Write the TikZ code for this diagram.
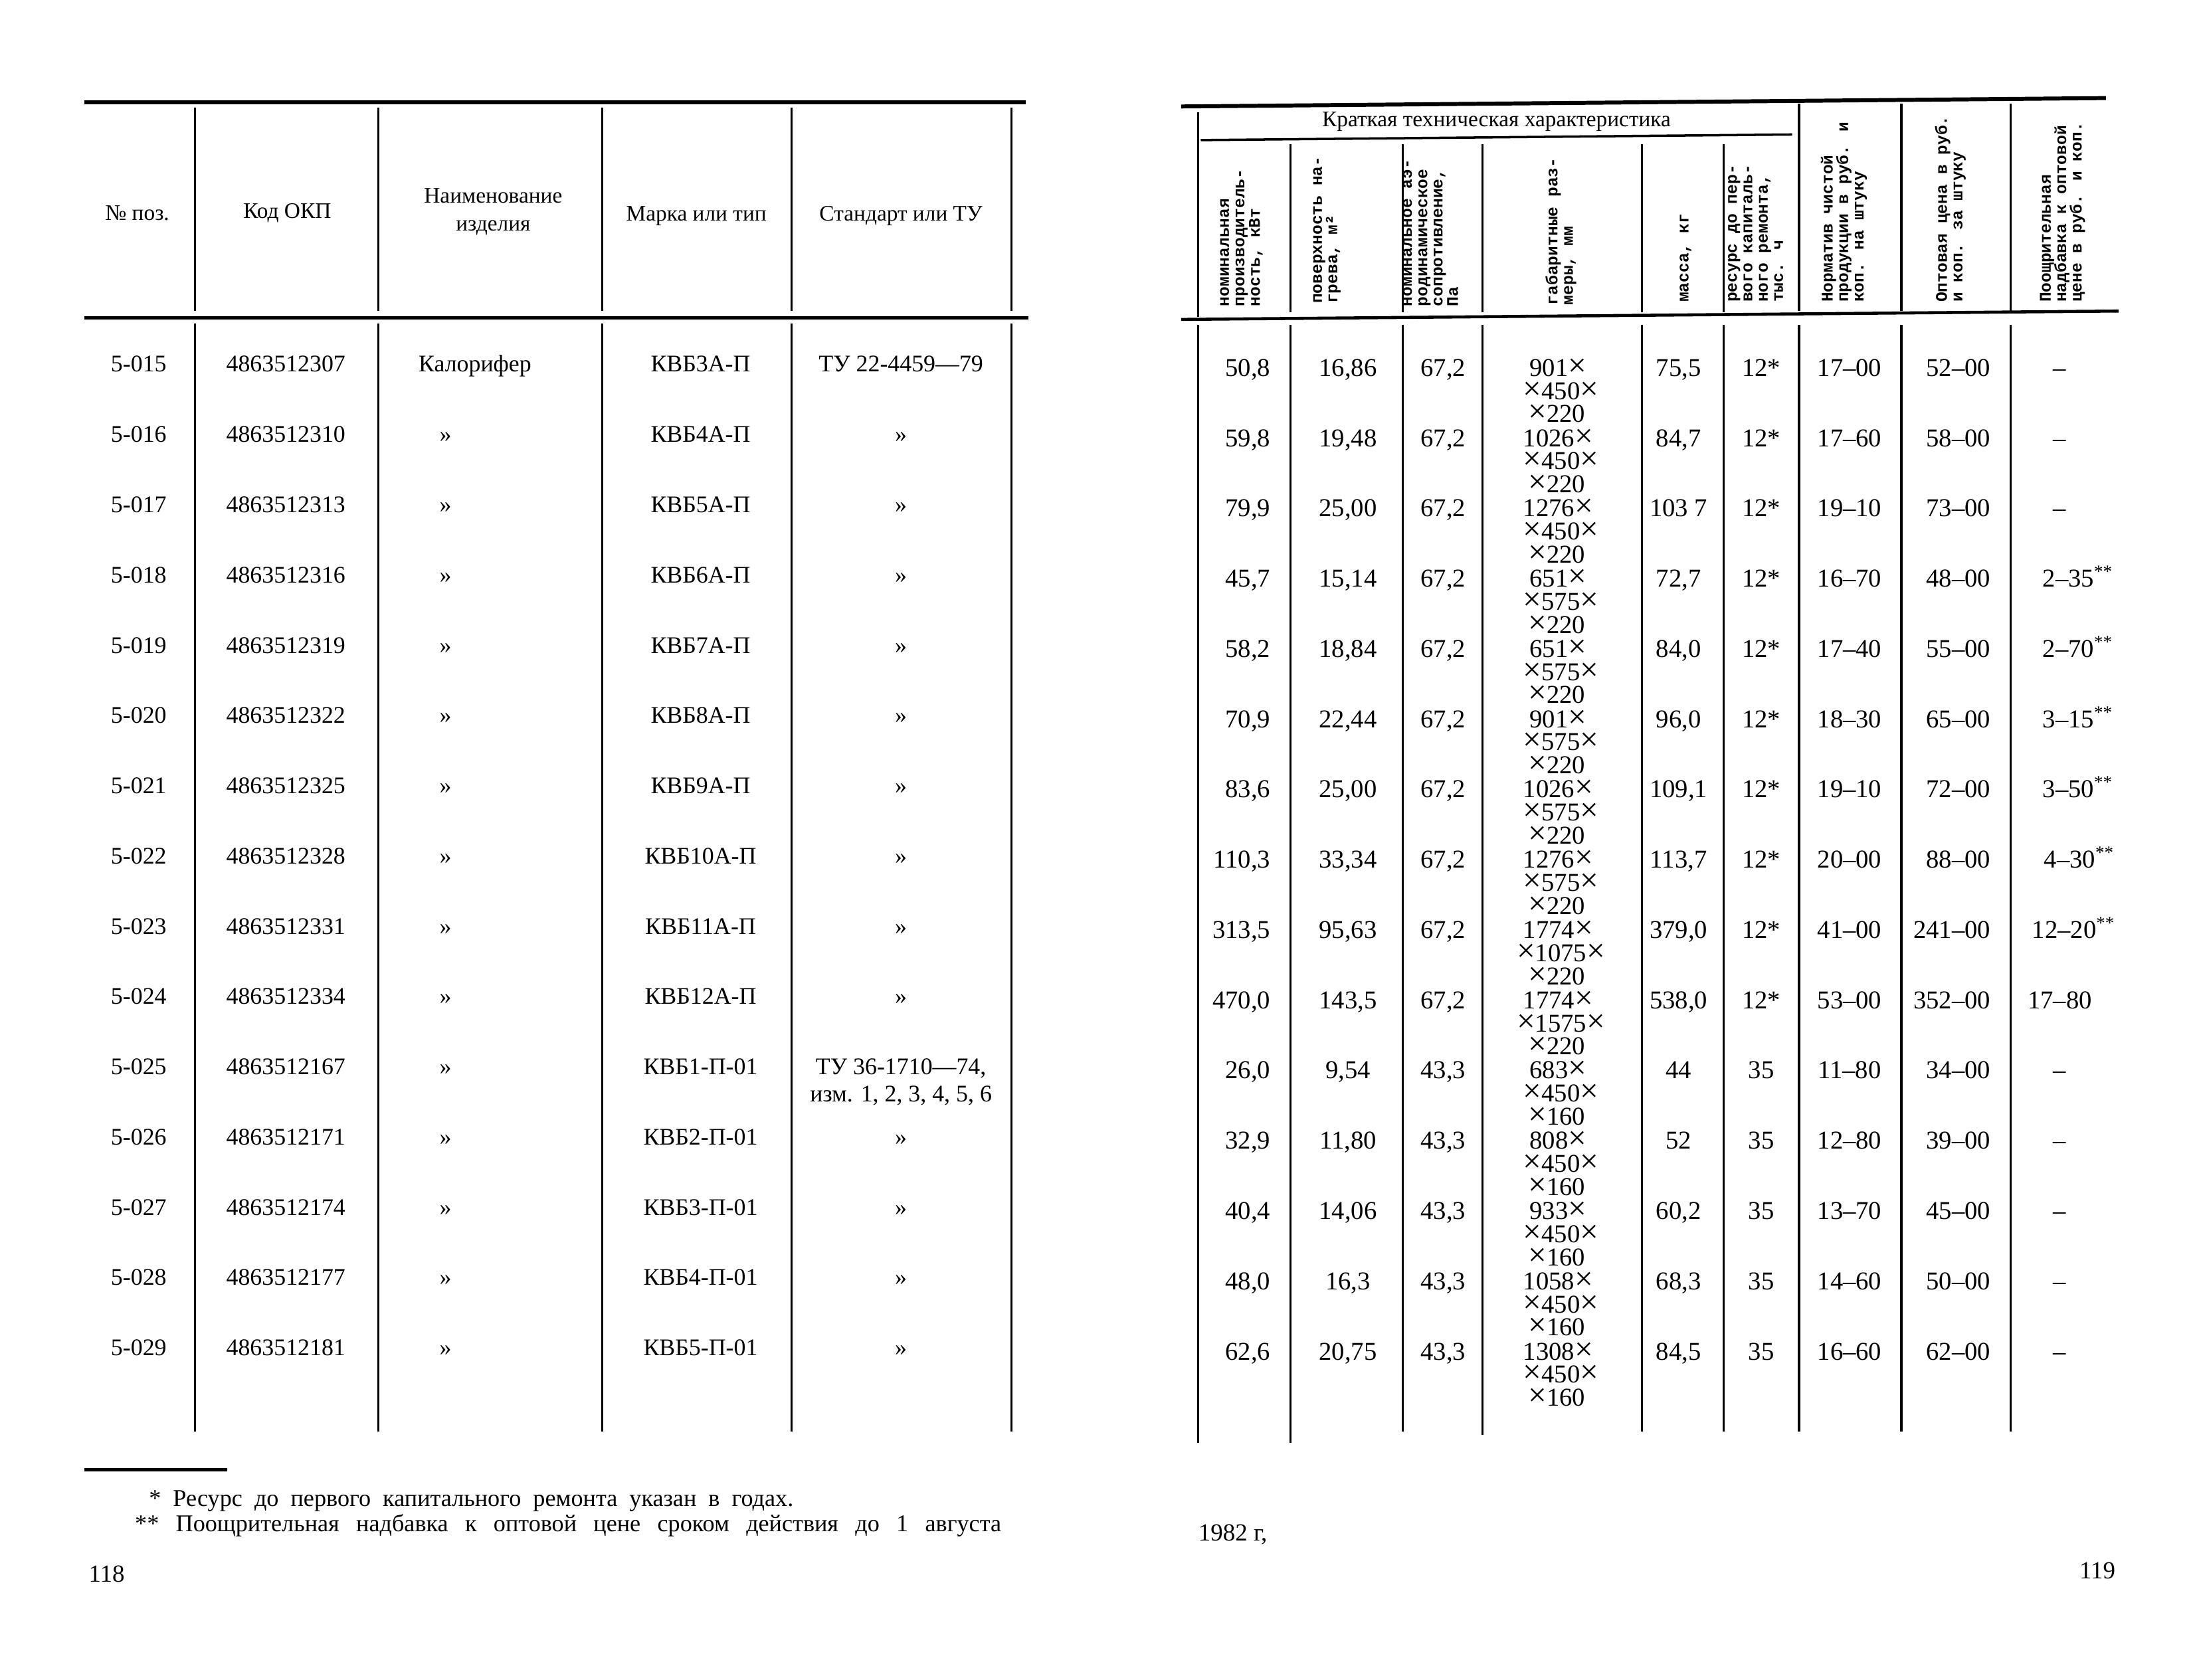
\documentclass[tikz,border=0pt]{standalone}
\usepackage{fontspec}
\setmainfont{Liberation Serif}
\newfontfamily\hdrfont{Liberation Mono}
\usetikzlibrary{positioning}

\newcommand\dimx{{\fontsize{14}{14}\selectfont ×}}

\tikzset{
  toprule/.style={line width=1.7pt},
  midrule/.style={line width=1.3pt},
  colline/.style={line width=0.9pt},
  hdr/.style={font=\fontsize{9.5}{12}\selectfont, align=center, inner sep=0pt},
  rothdr/.style={font=\hdrfont\bfseries\fontsize{7}{6.6}\selectfont, rotate=90, anchor=west, align=left, inner sep=0pt},
  lcell/.style={font=\fontsize{10.2}{12}\selectfont, anchor=base, inner sep=0pt},
  rcell/.style={font=\fontsize{11}{12}\selectfont, anchor=base, inner sep=0pt},
  note/.style={font=\fontsize{10.3}{11}\selectfont, anchor=base west, inner sep=0pt},
}

\begin{document}
\begin{tikzpicture}[x=0.21091mm, y=-0.21091mm]
\useasboundingbox (0,0) rectangle (1568,1199);

% left page: rules and column lines
\draw[toprule] (60,73) -- (732,73);
\draw[midrule] (60,227) -- (734,227);
\foreach \x in {139,270,430,565,722} {
  \draw[colline] (\x,77) -- (\x,222);
  \draw[colline] (\x,231) -- (\x,1022);
}

% left page: header
\node[hdr] (h-pos) at (98,152) {№ поз.};
\node[hdr] (h-code) at (205,152) {Код ОКП};
\node[hdr] (h-name) at (352,151) {Наименование\\изделия};
\node[hdr] (h-mark) at (497,154) {Марка или тип};
\node[hdr] (h-std) at (643,154) {Стандарт или ТУ};

% left page: rows
\foreach \pos/\code/\name/\nx/\mark/\std [count=\i from 0] in {
  5-015/4863512307/Калорифер/339/КВБ3А-П/ТУ 22-4459—79,
  5-016/4863512310/»/318/КВБ4А-П/»,
  5-017/4863512313/»/318/КВБ5А-П/»,
  5-018/4863512316/»/318/КВБ6А-П/»,
  5-019/4863512319/»/318/КВБ7А-П/»,
  5-020/4863512322/»/318/КВБ8А-П/»,
  5-021/4863512325/»/318/КВБ9А-П/»,
  5-022/4863512328/»/318/КВБ10А-П/»,
  5-023/4863512331/»/318/КВБ11А-П/»,
  5-024/4863512334/»/318/КВБ12А-П/»,
  5-025/4863512167/»/318/КВБ1-П-01/{ТУ 36-1710—74,},
  5-026/4863512171/»/318/КВБ2-П-01/»,
  5-027/4863512174/»/318/КВБ3-П-01/»,
  5-028/4863512177/»/318/КВБ4-П-01/»,
  5-029/4863512181/»/318/КВБ5-П-01/»} {
  \pgfmathsetmacro\yy{265.5+50.15*\i}
  \node[lcell] (pos-\i) at (99,\yy) {\pos};
  \node[lcell] (code-\i) at (204,\yy) {\code};
  \node[lcell] (name-\i) at (\nx,\yy) {\name};
  \node[lcell] (mark-\i) at (500,\yy) {\mark};
  \node[lcell] (std-\i) at (643,\yy) {\std};
}
\node[lcell, below=3pt of std-10] (std-10b) {изм. 1, 2, 3, 4, 5, 6};

% right page: rules and column lines
\draw[toprule] (843,76) -- (1503,70);
\draw[midrule] (843,228) -- (1512,222);
\draw[line width=1pt] (857,100) -- (1279,96);
\draw[colline] (855,80) -- (855,226);
\foreach \x in {921,1001,1058,1172,1230}
  \draw[colline] (\x,103) -- (\x,223);
\foreach \x in {1284,1357,1435}
  \draw[colline] (\x,74) -- (\x,222);
\foreach \x/\yb in {855/1030,921/1030,1001/1022,1058/1024,1172/1022,1230/1022,1284/1022,1357/1022,1435/1022}
  \draw[colline] (\x,232) -- (\x,\yb);

% right page: header
\node[hdr] (h-brief) at (1068,87) {Краткая техническая характеристика};
\node[rothdr] (h-pw) at (886,219) {номинальная\\производитель-\\ность, кВт};
\node[rothdr] (h-sf) at (947,217) {поверхность на-\\грева, м²};
\node[rothdr] (h-rs) at (1021,219) {номинальное аэ-\\родинамическое\\сопротивление,\\Па};
\node[rothdr] (h-dim) at (1114,218) {габаритные раз-\\меры, мм};
\node[rothdr] (h-ms) at (1203,216) {масса, кг};
\node[rothdr] (h-life) at (1253,216) {ресурс до пер-\\вого капиталь-\\ного ремонта,\\тыс. ч};
\node[rothdr] (h-norm) at (1316,216) {Норматив чистой\\продукции в руб. и\\коп. на штуку};
\node[rothdr] (h-price) at (1392,216) {Оптовая цена в руб.\\и коп. за штуку};
\node[rothdr] (h-bonus) at (1472,216) {Поощрительная\\надбавка к оптовой\\цене в руб. и коп.};

% right page: rows
\foreach \pw/\sf/\rs/\da/\db/\dc/\ms/\life/\norm/\price [count=\i from 0] in {
  {50,8}/{16,86}/{67,2}/901/450/220/{75,5}/12*/17–00/52–00,
  {59,8}/{19,48}/{67,2}/1026/450/220/{84,7}/12*/17–60/58–00,
  {79,9}/{25,00}/{67,2}/1276/450/220/{103 7}/12*/19–10/73–00,
  {45,7}/{15,14}/{67,2}/651/575/220/{72,7}/12*/16–70/48–00,
  {58,2}/{18,84}/{67,2}/651/575/220/{84,0}/12*/17–40/55–00,
  {70,9}/{22,44}/{67,2}/901/575/220/{96,0}/12*/18–30/65–00,
  {83,6}/{25,00}/{67,2}/1026/575/220/{109,1}/12*/19–10/72–00,
  {110,3}/{33,34}/{67,2}/1276/575/220/{113,7}/12*/20–00/88–00,
  {313,5}/{95,63}/{67,2}/1774/1075/220/{379,0}/12*/41–00/241–00,
  {470,0}/{143,5}/{67,2}/1774/1575/220/{538,0}/12*/53–00/352–00,
  {26,0}/{9,54}/{43,3}/683/450/160/44/35/11–80/34–00,
  {32,9}/{11,80}/{43,3}/808/450/160/52/35/12–80/39–00,
  {40,4}/{14,06}/{43,3}/933/450/160/{60,2}/35/13–70/45–00,
  {48,0}/{16,3}/{43,3}/1058/450/160/{68,3}/35/14–60/50–00,
  {62,6}/{20,75}/{43,3}/1308/450/160/{84,5}/35/16–60/62–00} {
  \pgfmathsetmacro\yy{268.5+50.15*\i}
  \node[rcell, anchor=base east] (pw-\i) at (907,\yy) {\pw};
  \node[rcell] (sf-\i) at (962,\yy) {\sf};
  \node[rcell] (rs-\i) at (1030,\yy) {\rs};
  \node[rcell] (dima-\i) at (1112,\yy) {\da\dimx};
  \node[rcell] (dimb-\i) at (1114,\yy+16.5) {\dimx\db\dimx};
  \node[rcell] (dimc-\i) at (1111,\yy+33) {\dimx\dc};
  \node[rcell] (ms-\i) at (1198,\yy) {\ms};
  \node[rcell] (life-\i) at (1257,\yy) {\life};
  \node[rcell] (norm-\i) at (1320,\yy) {\norm};
  \node[rcell, anchor=base east] (price-\i) at (1421,\yy) {\price};
}
\foreach \bonus/\bx [count=\i from 0] in {
  –/1470, –/1470, –/1470,
  {2–35\textsuperscript{**}}/1483, {2–70\textsuperscript{**}}/1483,
  {3–15\textsuperscript{**}}/1483, {3–50\textsuperscript{**}}/1483,
  {4–30\textsuperscript{**}}/1484, {12–20\textsuperscript{**}}/1480,
  17–80/1470,
  –/1470, –/1470, –/1470, –/1470, –/1470} {
  \pgfmathsetmacro\yy{268.5+50.15*\i}
  \node[rcell] (bonus-\i) at (\bx,\yy) {\bonus};
}

% footnotes and page numbers
\draw[line width=1.2pt] (60,1049) -- (162,1049);
\node[note] (fn-a) at (106,1075) {\makebox[276pt][s]{* Ресурс до первого капитального ремонта указан в годах.}};
\node[note] (fn-b) at (96,1093) {\makebox[371pt][s]{** Поощрительная надбавка к оптовой цене сроком действия до 1 августа}};
\node[note, font=\fontsize{10.5}{12}\selectfont] (year) at (855,1100) {1982 г,};
\node[note, font=\fontsize{10.5}{12}\selectfont] (pg-left) at (63,1129) {118};
\node[note, font=\fontsize{10.5}{12}\selectfont, anchor=base east] (pg-right) at (1510,1127) {119};
\end{tikzpicture}
\end{document}
